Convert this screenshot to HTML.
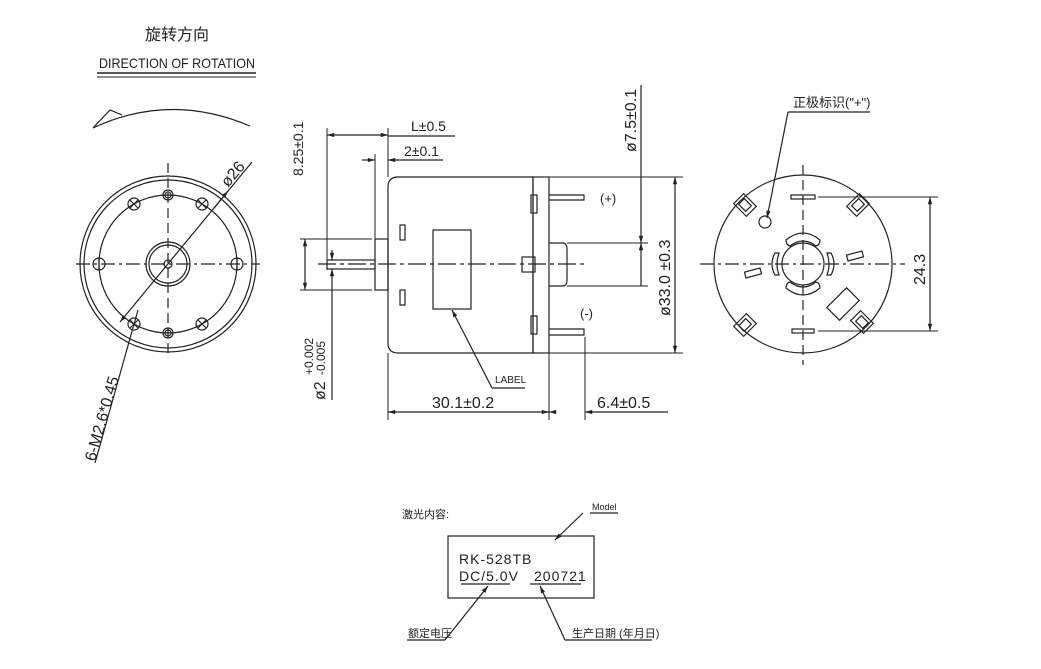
<!DOCTYPE html>
<html><head><meta charset="utf-8"><style>
html,body{margin:0;padding:0;background:#fff;}
svg{display:block;}
text{font-family:"Liberation Sans","Noto Sans CJK SC",sans-serif;fill:#222;}
</style></head><body>
<svg width="1041" height="669" viewBox="0 0 1041 669" xmlns="http://www.w3.org/2000/svg">
<defs>
<marker id="a" viewBox="0 0 10 10" refX="10" refY="5" markerWidth="9" markerHeight="6" orient="auto-start-reverse"><path d="M0,2 L10,5 L0,8 z" fill="#222"/></marker>
</defs>
<g stroke="#222" stroke-width="1.2" fill="none">
<!-- Title -->
<line x1="97" y1="73" x2="256" y2="73" stroke-width="1.5"/>
<line x1="97" y1="77" x2="256" y2="77" stroke-width="1"/>
<!-- rotation arrow -->
<path d="M93,128 Q170,92 250,126"/>
<path d="M93,128 L110,110 L122,115"/>

<!-- Left view -->
<circle cx="168" cy="264" r="88"/>
<circle cx="168" cy="264" r="84"/>
<circle cx="168" cy="264" r="69"/>
<circle cx="168" cy="264" r="22"/>
<circle cx="168" cy="264" r="19"/>
<circle cx="168" cy="264" r="4"/>
<line x1="76" y1="264" x2="260" y2="264" stroke-dasharray="14,4,3,4"/>
<line x1="168" y1="163" x2="168" y2="355" stroke-dasharray="10,5"/>
<circle cx="168" cy="195" r="5"/><circle cx="168" cy="195" r="3"/>
<circle cx="168" cy="333" r="5"/><circle cx="168" cy="333" r="3"/>
<circle cx="99" cy="264" r="6"/><line x1="99" y1="258" x2="99" y2="270"/>
<circle cx="237" cy="264" r="6"/><line x1="237" y1="258" x2="237" y2="270"/>
<g>
<circle cx="134" cy="204" r="6"/><path d="M130,200 l8,8 M138,200 l-8,8"/>
<circle cx="202" cy="204" r="6"/><path d="M198,200 l8,8 M206,200 l-8,8"/>
<circle cx="134" cy="324" r="6"/><path d="M130,320 l8,8 M138,320 l-8,8"/>
<circle cx="202" cy="324" r="6"/><path d="M198,320 l8,8 M206,320 l-8,8"/>
</g>
<line x1="252" y1="162" x2="120" y2="322" marker-end="url(#a)"/>
<line x1="214" y1="208" x2="228" y2="191" marker-end="url(#a)"/>
<line x1="138" y1="310" x2="95" y2="463"/>

<!-- Middle view -->
<path d="M398,177 L533,177 L533,353 L398,353 Q388,353 388,343 L388,187 Q388,177 398,177 Z"/>
<rect x="533" y="177" width="16" height="176"/>
<path d="M549,243 L563,243 Q567,243 567,250 L567,279 Q567,286 563,286 L549,286"/>
<rect x="522" y="257" width="13" height="15"/>
<rect x="531" y="195" width="6" height="18"/>
<rect x="531" y="316" width="6" height="18"/>
<path d="M549,195 L584,195 L584,200 L549,200"/>
<path d="M549,329 L584,329 L584,335 L549,335"/>
<rect x="375" y="239" width="13" height="51"/>
<rect x="327" y="260" width="48" height="9"/>
<line x1="318" y1="264" x2="585" y2="264" stroke-dasharray="18,4,4,4"/>
<rect x="400" y="225" width="5" height="15"/>
<rect x="400" y="290" width="5" height="15"/>
<rect x="433" y="230" width="38" height="79"/>
<path d="M492,388 L525,388"/><line x1="492" y1="388" x2="452" y2="310" marker-end="url(#a)"/>
<!-- dims middle -->
<line x1="327" y1="128" x2="327" y2="270" stroke-width="1"/>
<line x1="388" y1="128" x2="388" y2="177" stroke-width="1"/>
<line x1="327" y1="135" x2="388" y2="135" marker-start="url(#a)" marker-end="url(#a)"/>
<line x1="388" y1="136" x2="455" y2="136"/>
<line x1="375" y1="154" x2="375" y2="239" stroke-width="1"/>
<line x1="362" y1="160" x2="375" y2="160" marker-end="url(#a)"/>
<line x1="443" y1="160" x2="388" y2="160" marker-end="url(#a)"/>
<line x1="300" y1="239" x2="372" y2="239" stroke-width="1"/>
<line x1="300" y1="290" x2="372" y2="290" stroke-width="1"/>
<line x1="305" y1="239" x2="305" y2="290" marker-start="url(#a)" marker-end="url(#a)"/>
<line x1="332" y1="250" x2="332" y2="260" marker-end="url(#a)"/>
<line x1="332" y1="400" x2="332" y2="269" marker-end="url(#a)"/>
<line x1="567" y1="243" x2="648" y2="243" stroke-width="1"/>
<line x1="567" y1="286" x2="648" y2="286" stroke-width="1"/>
<line x1="641" y1="85" x2="641" y2="243" marker-end="url(#a)"/>
<line x1="641" y1="286" x2="641" y2="243" marker-end="url(#a)"/>
<line x1="549" y1="177" x2="683" y2="177" stroke-width="1"/>
<line x1="549" y1="353" x2="683" y2="353" stroke-width="1"/>
<line x1="675" y1="177" x2="675" y2="353" marker-start="url(#a)" marker-end="url(#a)"/>
<line x1="388" y1="353" x2="388" y2="420" stroke-width="1"/>
<line x1="549" y1="353" x2="549" y2="420" stroke-width="1"/>
<line x1="585" y1="337" x2="585" y2="420" stroke-width="1"/>
<line x1="388" y1="412" x2="549" y2="412" marker-start="url(#a)" marker-end="url(#a)"/>
<line x1="556" y1="412" x2="549" y2="412" marker-end="url(#a)"/>
<line x1="668" y1="412" x2="585" y2="412" marker-end="url(#a)"/>

<!-- Right view -->
<circle cx="803" cy="264" r="89"/>
<circle cx="803" cy="264" r="21"/>
<line x1="700" y1="264" x2="905" y2="264" stroke-dasharray="14,4,3,4"/>
<line x1="803" y1="165" x2="803" y2="365" stroke-dasharray="10,5"/>
<path d="M786,240 Q803,226 820,240 Q820,245 816,246 Q803,236 790,246 Q786,245 786,240 Z"/>
<path d="M786,288 Q803,302 820,288 Q820,283 816,282 Q803,292 790,282 Q786,283 786,288 Z"/>
<path d="M775,253 Q769,264 775,275 L779,275 Q775,264 779,253 Z"/>
<path d="M831,253 Q837,264 831,275 L827,275 Q831,264 827,253 Z"/>
<rect x="791" y="195" width="24" height="4"/>
<rect x="792" y="329" width="22" height="4"/>
<g transform="rotate(45 745 205)"><rect x="736" y="198" width="18" height="14"/><rect x="740" y="201" width="10" height="8"/></g>
<g transform="rotate(-45 858 205)"><rect x="849" y="198" width="18" height="14"/><rect x="853" y="201" width="10" height="8"/></g>
<g transform="rotate(-45 745 325)"><rect x="736" y="318" width="18" height="14"/><rect x="740" y="321" width="10" height="8"/></g>
<g transform="rotate(45 862 322)"><rect x="853" y="315" width="18" height="14"/><rect x="857" y="318" width="10" height="8"/></g>
<circle cx="765" cy="222" r="6"/>
<path d="M870,112 L788,112"/><line x1="788" y1="112" x2="767" y2="218" marker-end="url(#a)"/>
<rect x="745" y="270" width="16" height="6" transform="rotate(-15 753 273)"/>
<rect x="847" y="253" width="16" height="6" transform="rotate(-15 855 256)"/>
<rect x="834" y="290" width="18" height="28" transform="rotate(45 843 304)"/>
<line x1="818" y1="197" x2="938" y2="197" stroke-width="1"/>
<line x1="818" y1="331" x2="938" y2="331" stroke-width="1"/>
<line x1="930" y1="197" x2="930" y2="331" marker-start="url(#a)" marker-end="url(#a)"/>

<!-- Bottom label -->
<rect x="448" y="536" width="146" height="62"/>
<path d="M590,513 L618,513"/><line x1="583" y1="513" x2="555" y2="540" marker-end="url(#a)"/>
<line x1="461" y1="584" x2="510" y2="584"/>
<line x1="530" y1="584" x2="581" y2="584"/>
<path d="M407,640 L445,640"/><line x1="445" y1="640" x2="488" y2="586" marker-end="url(#a)"/>
<path d="M565,640 L652,640"/><line x1="565" y1="640" x2="540" y2="586" marker-end="url(#a)"/>
</g>

<!-- Texts -->
<text x="177" y="40" font-size="16" text-anchor="middle">旋转方向</text>
<text x="177" y="68" font-size="14" text-anchor="middle" textLength="156" lengthAdjust="spacingAndGlyphs">DIRECTION OF ROTATION</text>
<text font-size="16" transform="translate(228,188) rotate(-50)">ø26</text>
<text font-size="16" transform="translate(95,462) rotate(-74)">6-M2.6*0.45</text>

<text x="411" y="131" font-size="14">L±0.5</text>
<text x="404" y="156" font-size="14">2±0.1</text>
<text font-size="14" transform="translate(303,176) rotate(-90)">8.25±0.1</text>
<text font-size="16" transform="translate(325,400) rotate(-90)">ø2</text>
<text font-size="12" transform="translate(313,375) rotate(-90)">+0.002</text>
<text font-size="12" transform="translate(325,375) rotate(-90)">-0.005</text>
<text font-size="16" transform="translate(636,152) rotate(-90)">ø7.5±0.1</text>
<text font-size="16" transform="translate(670,316) rotate(-90)">ø33.0  ±0.3</text>
<text x="600" y="203" font-size="13">(+)</text>
<text x="580" y="318" font-size="13">(-)</text>
<text x="495" y="383" font-size="10">LABEL</text>
<text x="432" y="408" font-size="16">30.1±0.2</text>
<text x="597" y="408" font-size="16">6.4±0.5</text>

<text x="793" y="107" font-size="13">正极标识("+")</text>
<text font-size="16" transform="translate(925,285) rotate(-90)">24.3</text>

<text x="402" y="518" font-size="11">激光内容:</text>
<text x="592" y="510" font-size="9">Model</text>
<text x="459" y="564" font-size="14" letter-spacing="1">RK-528TB</text>
<text x="459" y="581" font-size="14" letter-spacing="1">DC/5.0V</text>
<text x="534" y="581" font-size="14" letter-spacing="1">200721</text>
<text x="408" y="637" font-size="11">额定电压</text>
<text x="572" y="637" font-size="11">生产日期 (年月日)</text>
</svg>
</body></html>
